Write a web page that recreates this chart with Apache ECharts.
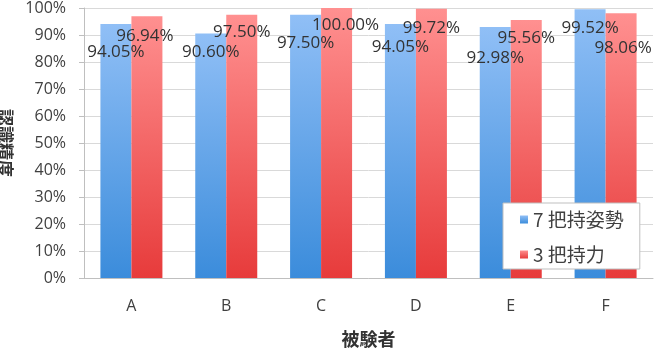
<!DOCTYPE html>
<html>
<head>
<meta charset="utf-8">
<script src="https://cdn.jsdelivr.net/npm/echarts@6/dist/echarts.min.js"></script>
<style>html,body{margin:0;padding:0;background:#fff;}#c{width:666px;height:351px;}</style>
</head>
<body>
<div id="c"></div>
<script>
const categories = ['A', 'B', 'C', 'D', 'E', 'F'];
const seriesNames = ['7 把持姿勢', '3 把持力'];
const postureValues = [94.05, 90.60, 97.50, 94.05, 92.98, 99.52];
const forceValues = [96.94, 97.50, 100.00, 99.72, 95.56, 98.06];
const yTicks = [0, 10, 20, 30, 40, 50, 60, 70, 80, 90, 100];

// label placement tweaks (styling only)
const postureLabelDy = [19, 10, 19, 14, 22, 10];
const forceLabelDy = [11, 8, 8, 10, 9, 26];
const forceLabelDx = [-2, 0, 9, 0, 0, 2];

const chart = echarts.init(document.getElementById('c'));
const labelFont = 'Open Sans';
const cjkFont = 'Noto Sans CJK JP';

function makeData(values, dys, dxs) {
  return values.map((v, i) => ({
    value: v,
    label: { offset: [dxs ? dxs[i] : 0, dys[i]] }
  }));
}

const blueGrad = new echarts.graphic.LinearGradient(0, 0, 0, 1, [
  { offset: 0, color: '#90bff6' },
  { offset: 1, color: '#3b8cdb' }
]);
const redGrad = new echarts.graphic.LinearGradient(0, 0, 0, 1, [
  { offset: 0, color: '#ff9090' },
  { offset: 1, color: '#e73b3b' }
]);

const labelCommon = {
  show: true,
  position: 'insideTop',
  distance: 0,
  color: '#333',
  fontFamily: labelFont,
  fontSize: 17,
  lineHeight: 18,
  formatter: p => p.value.toFixed(2) + '%'
};

chart.setOption({
  animation: false,
  grid: { left: 84, right: 13, top: 8, bottom: 73, containLabel: false, outerBoundsMode: 'none' },
  legend: {
    orient: 'vertical',
    left: 503,
    top: 203,
    padding: [7, 16, 5, 17],
    itemGap: 16,
    itemWidth: 8,
    itemHeight: 8,
    icon: 'rect',
    backgroundColor: '#fff',
    borderColor: '#bfbfbf',
    borderWidth: 1,
    textStyle: { fontFamily: cjkFont, fontSize: 19, color: '#404040' },
    data: seriesNames
  },
  xAxis: {
    type: 'category',
    data: categories,
    name: '被験者',
    nameLocation: 'middle',
    nameGap: 52,
    nameTextStyle: { fontFamily: cjkFont, fontSize: 18, fontWeight: 'bold', color: '#333' },
    axisLine: { lineStyle: { color: '#bfbfbf' } },
    axisTick: { length: 6, lineStyle: { color: '#bfbfbf' } },
    axisLabel: { margin: 20, fontFamily: labelFont, fontSize: 16, color: '#404040' }
  },
  yAxis: {
    type: 'value',
    min: yTicks[0],
    max: yTicks[yTicks.length - 1],
    interval: yTicks[1] - yTicks[0],
    name: '認識精度',
    nameLocation: 'middle',
    nameRotate: -90,
    nameGap: 66,
    nameTextStyle: { fontFamily: cjkFont, fontSize: 17, fontWeight: 'bold', color: '#333' },
    axisLine: { show: true, lineStyle: { color: '#bfbfbf' } },
    axisTick: { show: true, length: 5, lineStyle: { color: '#bfbfbf' } },
    splitLine: { lineStyle: { color: '#d9d9d9' } },
    axisLabel: { margin: 18, fontFamily: labelFont, fontSize: 16, color: '#404040', formatter: '{value}%' }
  },
  series: [
    {
      name: seriesNames[0],
      type: 'bar',
      z: 3,
      barWidth: 31,
      barGap: '0%',
      itemStyle: { color: blueGrad },
      label: labelCommon,
      data: makeData(postureValues, postureLabelDy, null)
    },
    {
      name: seriesNames[1],
      type: 'bar',
      z: 3,
      barWidth: 31,
      barGap: '0%',
      itemStyle: { color: redGrad },
      label: labelCommon,
      data: makeData(forceValues, forceLabelDy, forceLabelDx)
    }
  ]
});
</script>
</body>
</html>
